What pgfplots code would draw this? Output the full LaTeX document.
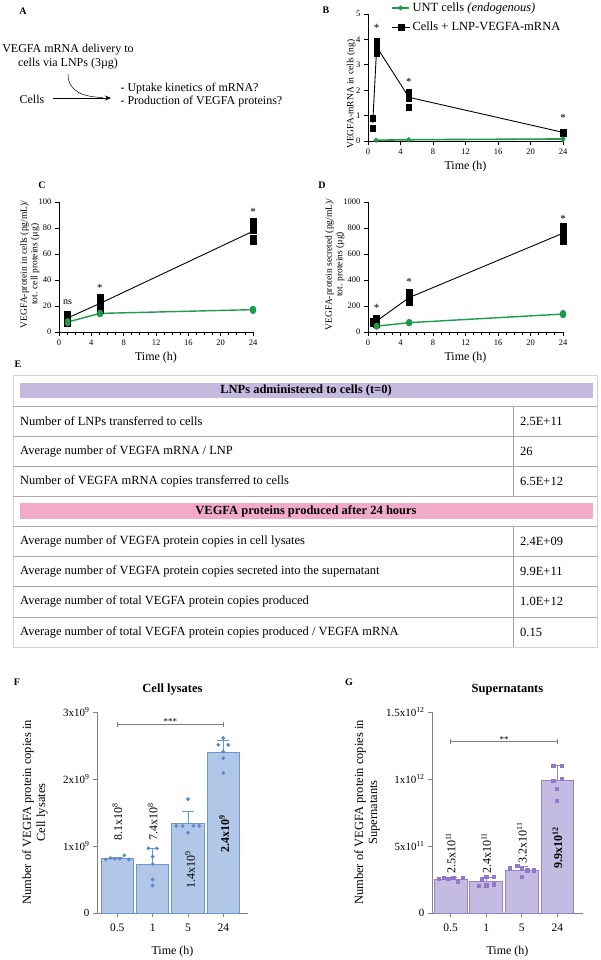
\documentclass[border=0pt]{standalone}
\usepackage{fontspec}
\setmainfont{Liberation Serif}
\usepackage{pgfplots}
\pgfplotsset{compat=1.18}
\usetikzlibrary{arrows.meta}

\definecolor{ugreen}{RGB}{30,155,75}
\definecolor{fbar}{RGB}{177,199,231}
\definecolor{fedge}{RGB}{110,150,210}
\definecolor{fdot}{RGB}{95,135,200}
\definecolor{gbar}{RGB}{196,187,226}
\definecolor{gedge}{RGB}{150,130,205}
\definecolor{gdot}{RGB}{145,120,205}
\definecolor{bandpurple}{RGB}{196,186,222}
\definecolor{bandpink}{RGB}{241,170,200}

\newcommand{\fs}[2]{\fontsize{#1}{#2}\selectfont}

\pgfplotsset{
  timeax/.style={
    scale only axis, clip=false,
    axis x line*=bottom, axis y line*=left,
    axis line style={-, line width=0.9pt},
    tick align=outside, major tick length=4pt, minor tick length=2.5pt,
    every tick/.style={black, line width=0.8pt},
    xmin=0, xmax=24, xtick={0,4,...,24},
    /pgf/number format/assume math mode=true,
    /pgf/number format/1000 sep={},
    ticklabel style={font=\fs{8.5}{9}},
    xlabel style={font=\fs{12}{13}, at={(axis description cs:0.5,-0.2)}, anchor=center},
    ylabel style={font=\fs{9.5}{10.5}, align=center, anchor=center},
  },
  barax/.style={
    scale only axis, clip=false,
    axis x line*=bottom, axis y line*=left,
    axis line style={-, gray, line width=0.8pt},
    tick align=outside, major tick length=4pt,
    every tick/.style={gray, line width=0.8pt},
    xtick={0,1,2,3}, xticklabels={0.5,1,5,24}, ymin=0,
    /pgf/number format/assume math mode=true,
    xticklabel style={font=\fs{11.5}{12}, yshift=-3pt},
    yticklabel style={font=\fs{11}{12}},
    xlabel style={font=\fs{12}{13}, at={(axis description cs:0.5,-0.194)}, anchor=center},
    ylabel style={font=\fs{12.5}{14}, align=center, anchor=center},
  },
}

\begin{document}
\begin{tikzpicture}
\useasboundingbox (0pt,0pt) rectangle (600pt,-960pt);

% ---------------- Panel labels ----------------
\foreach \t/\x/\y in {A/23/11, B/326/10, C/42/185, D/322/185, E/18/364, F/17/682, G/349/682}
  \node[font=\bfseries\fs{10}{11}] at (\x pt,-\y pt) {\t};

% ---------------- Panel A ----------------
\node[font=\fs{12}{13}] at (68pt,-50pt) {VEGFA mRNA delivery to};
\node[font=\fs{12}{13}] at (68pt,-64pt) {cells via LNPs (3µg)};
\node[font=\fs{12}{13}] at (32pt,-99pt) {Cells};
\draw[line width=0.5pt, -{Stealth[length=6pt,width=5pt]}] (53pt,-98pt) -- (111pt,-98pt);
\draw[line width=0.5pt] (68pt,-74pt) .. controls (68pt,-92pt) and (84pt,-97pt) .. (103pt,-97.5pt);
\node[font=\fs{12}{13}, anchor=west] at (117pt,-89pt) {- Uptake kinetics of mRNA?};
\node[font=\fs{12}{13}, anchor=west] at (117pt,-102pt) {- Production of VEGFA proteins?};

% ---------------- Panel B ----------------
\begin{axis}[timeax, at={(368pt,-141pt)}, anchor=south west, width=195pt, height=127pt,
  ymin=0, ymax=5, ytick={0,1,...,5},
  xlabel={Time (h)}, ylabel={VEGFA-mRNA in cells (ng)},
  ylabel style={at={(axis description cs:-0.087,0.37)}},
  legend style={draw=none, fill=none, at={(axis description cs:0.118,1.105)}, anchor=north west,
    font=\fs{12.5}{13}, inner sep=0pt, row sep=5pt}, legend cell align=left]
\addplot[ugreen, line width=1.6pt, mark=*, mark size=1.6pt] coordinates {(1,0.03)(5,0.05)(24,0.08)};
\addlegendentry{UNT cells \textit{(endogenous)}}
\addplot[black, line width=0.9pt, mark=none,
  legend image code/.code={\draw[black, line width=1pt] (0pt,0pt) -- (18pt,0pt);
    \fill[black] (9pt,0pt) +(-3pt,-3pt) rectangle +(3pt,3pt);}]
  coordinates {(0.58,0.7)(1.07,3.7)(5.04,1.72)(24,0.34)};
\addlegendentry{Cells + LNP-VEGFA-mRNA}
\addplot[only marks, black, mark=square*, mark size=2.7pt, forget plot] coordinates {
 (0.58,0.89)(0.58,0.50)(1.07,3.45)(1.07,3.6)(1.07,3.8)(1.07,3.95)
 (5.04,1.94)(5.04,1.68)(5.04,1.33)(24,0.34)(24,0.30)};
\addplot[only marks, ugreen, mark=*, mark size=1.8pt, forget plot] coordinates {(1,0.03)(5,0.05)(24,0.05)(24,0.1)};
\node[font=\fs{11}{12}] at (axis cs:1.07,4.45) {*};
\node[font=\fs{11}{12}] at (axis cs:5.04,2.33) {*};
\node[font=\fs{11}{12}] at (axis cs:24,0.9) {*};
\end{axis}

% ---------------- Panel C ----------------
\begin{axis}[timeax, at={(59pt,-332pt)}, anchor=south west, width=194pt, height=130pt,
  ymin=0, ymax=100, ytick={0,20,...,100}, minor x tick num=3,
  xlabel={Time (h)}, ylabel={VEGFA-protein in cells (pg/mL)/\\tot. cell proteins (µg)},
  ylabel style={at={(axis description cs:-0.15,0.52)}}]
\addplot[black, line width=0.9pt] coordinates {(1.07,10.8)(5.07,22)(24,77.5)};
\addplot[ugreen, line width=1.4pt, mark=*, mark size=2.6pt] coordinates {(1.07,7.7)(5.07,14.3)(24,17.2)};
\addplot[only marks, black, mark=square*, mark size=3pt] coordinates {
 (1.07,7)(1.07,9)(1.07,11)(1.07,13)(1.07,14)
 (5.07,17)(5.07,20)(5.07,22)(5.07,25)(5.07,27)
 (24,70)(24,72)(24,78)(24,80)(24,83)(24,85)};
\addplot[only marks, ugreen, mark=*, mark size=2.6pt] coordinates {(1.07,6.5)(1.07,8.5)(5.07,13.5)(5.07,15)(24,16)(24,18)};
\node[font=\fs{10}{11}] at (axis cs:1.07,23) {ns};
\node[font=\fs{11}{12}] at (axis cs:5.07,34) {*};
\node[font=\fs{11}{12}] at (axis cs:24,92.5) {*};
\end{axis}

% ---------------- Panel D ----------------
\begin{axis}[timeax, at={(368pt,-332pt)}, anchor=south west, width=195pt, height=130pt,
  ymin=0, ymax=1000, ytick={0,200,...,1000}, minor x tick num=3,
  xlabel={Time (h)}, ylabel={VEGFA-protein secreted (pg/mL)/\\tot. proteins (µg)},
  ylabel style={at={(axis description cs:-0.17,0.52)}}]
\addplot[black, line width=0.9pt] coordinates {(0.58,75)(1.07,85)(5.07,265)(24,760)};
\addplot[ugreen, line width=1.4pt, mark=*, mark size=2.6pt] coordinates {(1.07,45)(5.07,72)(24,138)};
\addplot[only marks, black, mark=square*, mark size=3pt] coordinates {
 (0.58,70)(0.58,80)(1.07,60)(1.07,85)(1.07,110)
 (5.07,230)(5.07,255)(5.07,280)(5.07,310)
 (24,700)(24,730)(24,760)(24,790)(24,815)};
\addplot[only marks, ugreen, mark=*, mark size=2.6pt] coordinates {(1.07,40)(1.07,50)(5.07,65)(5.07,78)(24,128)(24,148)};
\node[font=\fs{11}{12}] at (axis cs:1.07,185) {*};
\node[font=\fs{11}{12}] at (axis cs:5.07,385) {*};
\node[font=\fs{11}{12}] at (axis cs:24,872) {*};
\end{axis}

% ---------------- Panel E (table) ----------------
\draw[gray!35, line width=0.8pt] (13pt,-375pt) rectangle (597pt,-647pt);
\fill[bandpurple] (20pt,-383pt) rectangle (593pt,-398pt);
\fill[bandpink] (20pt,-503pt) rectangle (593pt,-519pt);
\foreach \yy in {406,436,466,496,526,556,586,617}
  \draw[gray!65, line width=0.9pt] (13pt,-\yy pt) -- (597pt,-\yy pt);
\draw[gray!75, line width=0.9pt] (513pt,-406pt) -- (513pt,-496pt);
\draw[gray!75, line width=0.9pt] (513pt,-526pt) -- (513pt,-647pt);
\node[font=\bfseries\fs{12.5}{13}] at (306pt,-390.5pt) {LNPs administered to cells (t=0)};
\node[font=\bfseries\fs{12.5}{13}] at (306pt,-511pt) {VEGFA proteins produced after 24 hours};
\foreach \yy/\a/\b in {
  421/{Number of LNPs transferred to cells}/{2.5E+11},
  451/{Average number of VEGFA mRNA / LNP}/{26},
  481/{Number of VEGFA mRNA copies transferred to cells}/{6.5E+12},
  541/{Average number of VEGFA protein copies in cell lysates}/{2.4E+09},
  571/{Average number of VEGFA protein copies secreted into the supernatant}/{9.9E+11},
  601.5/{Average number of total VEGFA protein copies produced}/{1.0E+12},
  632/{Average number of total VEGFA protein copies produced / VEGFA mRNA}/{0.15}}{
  \node[font=\fs{12.5}{13}, anchor=west, inner sep=0pt] at (20pt,-\yy pt) {\a};
  \node[font=\fs{12.5}{13}, anchor=west, inner sep=0pt] at (520pt,-\yy pt) {\b};
}

% ---------------- Panel F ----------------
\begin{axis}[barax, at={(97pt,-913pt)}, anchor=south west, width=151pt, height=201pt,
  xmin=-0.575, xmax=3.70, ymax=3, ytick={0,1,2,3},
  yticklabels={0,1x10\textsuperscript{9},2x10\textsuperscript{9},3x10\textsuperscript{9}},
  xlabel={Time (h)}, ylabel={Number of VEGFA protein copies in\\Cell lysates},
  ylabel style={at={(axis description cs:-0.41,0.5)}}]
\addplot[ybar, bar width=0.92, fill=fbar, draw=fedge, line width=0.8pt,
  error bars/.cd, y dir=plus, y explicit,
  error bar style={fedge, line width=0.8pt},
  error mark options={rotate=90, fedge, mark size=6pt, line width=0.8pt}]
  coordinates {(0,0.81) +- (0,0.025) (1,0.73) +- (0,0.24) (2,1.34) +- (0,0.18) (3,2.40) +- (0,0.17)};
\addplot[only marks, fdot, mark=*, mark size=1.7pt] coordinates {
 (-0.33,0.80)(-0.2,0.82)(-0.07,0.81)(0.07,0.81)(0.2,0.86)(0.33,0.80)
 (0.88,0.965)(1.12,0.965)(1,0.84)(1,0.73)(1,0.50)(1,0.41)
 (2,1.70)(1.67,1.30)(1.85,1.30)(2.16,1.30)(2.32,1.30)(2,1.20)
 (3,2.61)(2.86,2.51)(3.14,2.51)(3,2.41)(3,2.31)(3,2.09)};
\draw[gray, line width=0.7pt] (axis cs:0,2.82) -- (axis cs:3,2.82);
\draw[gray, line width=0.7pt] ([yshift=2.5pt]axis cs:0,2.82) -- ([yshift=-2.5pt]axis cs:0,2.82);
\draw[gray, line width=0.7pt] ([yshift=2.5pt]axis cs:3,2.82) -- ([yshift=-2.5pt]axis cs:3,2.82);
\node[font=\fs{9}{10}, anchor=south, inner sep=0.5pt] at (axis cs:1.5,2.80) {***};
\node[font=\bfseries\fs{12.5}{13}] at (axis description cs:0.5,1.11) {Cell lysates};
\node[rotate=90, font=\fs{12}{13}] at (axis cs:0,1.36) {8.1x10\textsuperscript{8}};
\node[rotate=90, font=\fs{12}{13}] at (axis cs:1,1.36) {7.4x10\textsuperscript{8}};
\node[rotate=90, font=\fs{12}{13}] at (axis cs:2.06,0.64) {1.4x10\textsuperscript{9}};
\node[rotate=90, font=\bfseries\fs{12}{13}] at (axis cs:3.03,1.19) {2.4x10\textsuperscript{9}};
\end{axis}

% ---------------- Panel G ----------------
\begin{axis}[barax, at={(432pt,-913pt)}, anchor=south west, width=151pt, height=201pt,
  xmin=-0.525, xmax=3.72, ymax=1.5, ytick={0,0.5,1,1.5},
  yticklabels={0,5x10\textsuperscript{11},1x10\textsuperscript{12},1.5x10\textsuperscript{12}},
  xlabel={Time (h)}, ylabel={Number of VEGFA protein copies in\\Supernatants},
  ylabel style={at={(axis description cs:-0.43,0.5)}}]
\addplot[ybar, bar width=0.92, fill=gbar, draw=gedge, line width=0.8pt,
  error bars/.cd, y dir=plus, y explicit,
  error bar style={gedge, line width=0.8pt},
  error mark options={rotate=90, gedge, mark size=6pt, line width=0.8pt}]
  coordinates {(0,0.254) +- (0,0.01) (1,0.236) +- (0,0.03) (2,0.32) +- (0,0.03) (3,0.99) +- (0,0.11)};
\addplot[only marks, gdot, mark=square*, mark size=1.6pt] coordinates {
 (-0.33,0.254)(-0.2,0.262)(-0.07,0.254)(0.07,0.262)(0.2,0.236)(0.33,0.262)
 (0.78,0.204)(0.88,0.251)(1,0.271)(1.2,0.271)(1,0.207)(1.2,0.215)
 (1.67,0.34)(1.87,0.355)(2,0.33)(2.15,0.32)(2.33,0.32)(2,0.27)
 (2.88,1.10)(3.12,1.10)(2.88,0.99)(3.12,1.0)(2.98,0.925)(2.98,0.84)};
\draw[gray, line width=0.7pt] (axis cs:0,1.28) -- (axis cs:3,1.28);
\draw[gray, line width=0.7pt] ([yshift=2.5pt]axis cs:0,1.28) -- ([yshift=-2.5pt]axis cs:0,1.28);
\draw[gray, line width=0.7pt] ([yshift=2.5pt]axis cs:3,1.28) -- ([yshift=-2.5pt]axis cs:3,1.28);
\node[font=\fs{9}{10}, anchor=south, inner sep=0.5pt] at (axis cs:1.5,1.27) {**};
\node[font=\bfseries\fs{12.5}{13}] at (axis description cs:0.5,1.11) {Supernatants};
\node[rotate=90, font=\fs{12}{13}] at (axis cs:0,0.445) {2.5x10\textsuperscript{11}};
\node[rotate=90, font=\fs{12}{13}] at (axis cs:1,0.447) {2.4x10\textsuperscript{11}};
\node[rotate=90, font=\fs{12}{13}] at (axis cs:2,0.525) {3.2x10\textsuperscript{11}};
\node[rotate=90, font=\bfseries\fs{12}{13}] at (axis cs:3,0.49) {9.9x10\textsuperscript{12}};
\end{axis}

\end{tikzpicture}
\end{document}
